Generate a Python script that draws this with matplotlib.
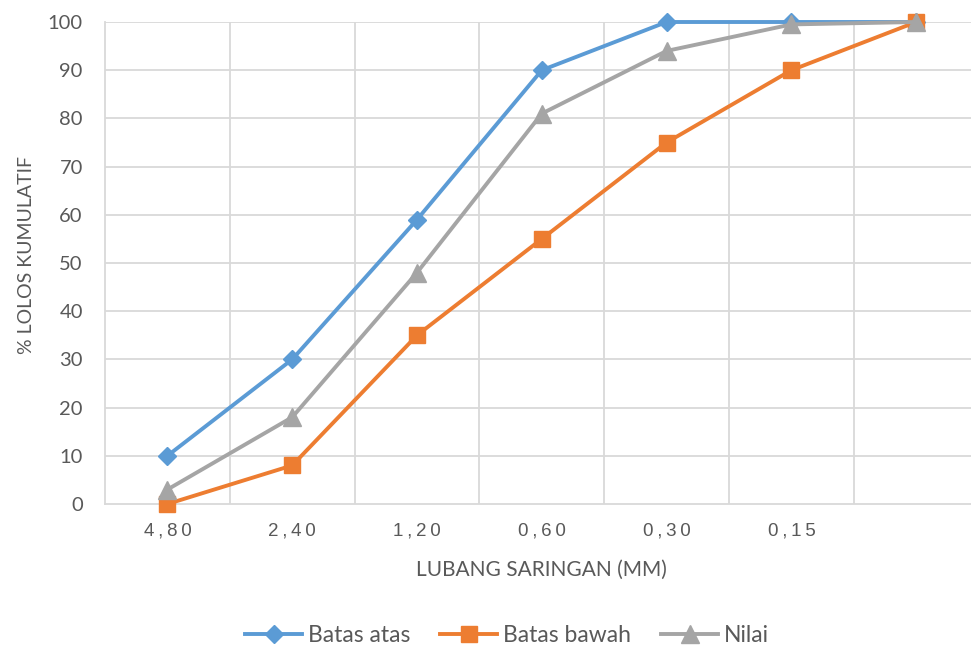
import matplotlib
matplotlib.use("Agg")
import matplotlib.pyplot as plt
from matplotlib.lines import Line2D

categories = ["4,80", "2,40", "1,20", "0,60", "0,30", "0,15", ""]
batas_atas = [10, 30, 59, 90, 100, 100, 100]
batas_bawah = [0, 8, 35, 55, 75, 90, 100]
nilai = [3, 18, 48, 81, 94, 99.5, 100]
series_names = ["Batas atas", "Batas bawah", "Nilai"]

plt.rcParams['font.family'] = ['Lato', 'DejaVu Sans']
TXT = '#595959'
GRID = '#D9D9D9'

W, H = 971, 650
fig = plt.figure(figsize=(W/100, H/100), dpi=100)
left, right, top, bottom = 105, 971, 22, 504
ax = fig.add_axes([left/W, (H-bottom)/H, (right-left)/W, (bottom-top)/H])

step = 124.8
x = list(range(len(categories)))
ax.set_xlim(-0.5, -0.5 + (right-left)/step)
ax.set_ylim(0, 100)

cols = ['#5B9BD5', '#ED7D31', '#A5A5A5']
mk = ['D', 's', '^']
ms = [9, 11.5, 12.5]
LW = 2.8
for vals, c, m, s, n in zip([batas_atas, batas_bawah, nilai], cols, mk, ms, series_names):
    ax.plot(x, vals, color=c, lw=LW, marker=m, markersize=s, label=n,
            clip_on=False, zorder=3, solid_capstyle='round')

ax.set_yticks(range(0, 101, 10))
ax.set_xticks(x)
spaced = ["\u2009".join(list(c)) for c in categories]
ax.set_xticklabels(spaced)
ax.grid(False)
for yv in range(10, 101, 10):
    ax.axhline(yv, color=GRID, lw=1.3, zorder=0)
for xv in [i + 0.5 for i in range(len(categories) - 1)]:
    ax.axvline(xv, color=GRID, lw=1.3, zorder=0)
for sp in ['top', 'right']:
    ax.spines[sp].set_visible(False)
for sp in ['left', 'bottom']:
    ax.spines[sp].set_color(GRID)
    ax.spines[sp].set_linewidth(1.3)
ax.tick_params(axis='both', which='both', length=0, colors=TXT, labelsize=14.5)
ax.tick_params(axis='y', pad=16)
ax.tick_params(axis='x', pad=13)
for lab in ax.get_xticklabels():
    lab.set_fontfamily(['Liberation Sans', 'DejaVu Sans'])
    lab.set_fontsize(13.5)

fig.text(26/W, 1 - 255/H, "% LOLOS KUMULATIF", rotation=90, ha='center', va='center',
         color=TXT, fontsize=14)
fig.text(541/W, 1 - 570/H, "LUBANG SARINGAN (MM)", ha='center', va='center',
         color=TXT, fontsize=15)

handles = [Line2D([0], [0], color=c, lw=LW, marker=m, markersize=s) for c, m, s in zip(cols, mk, ms)]
leg = fig.legend(handles, series_names, loc='center', bbox_to_anchor=(507/W, 1 - 636/H),
                 ncol=3, frameon=False, fontsize=16.5, handlelength=2.5, handletextpad=0.25,
                 columnspacing=1.3, labelcolor=TXT)

fig.savefig("out.png", dpi=100)
